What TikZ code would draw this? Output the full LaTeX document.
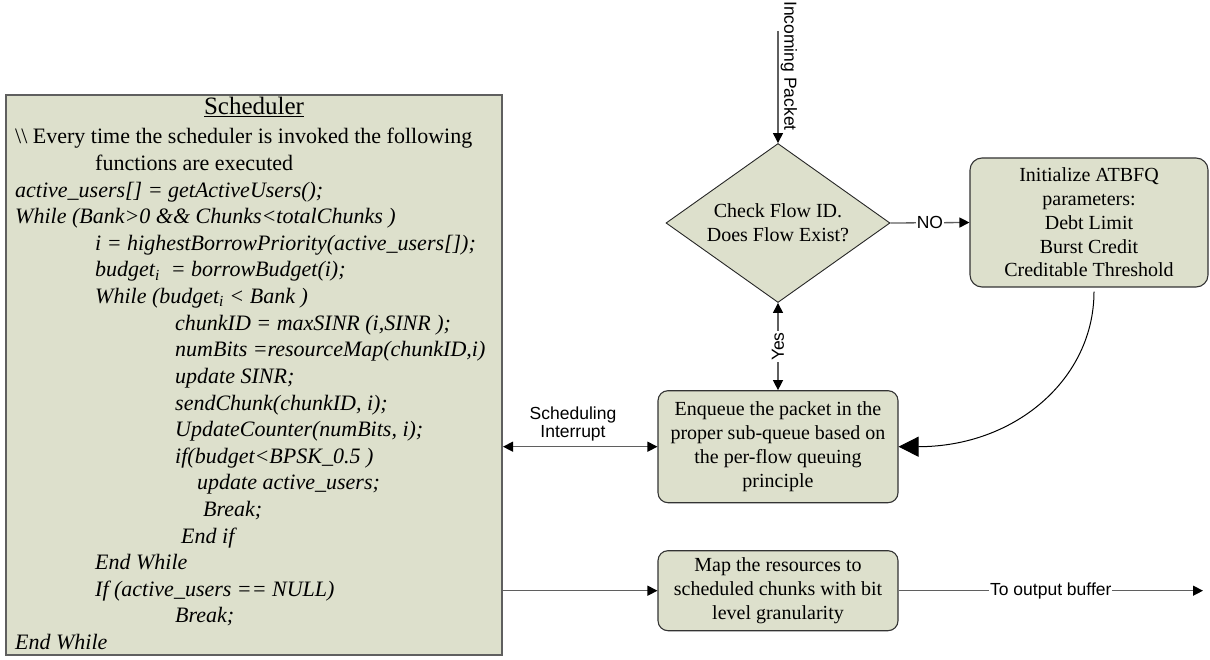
\documentclass[tikz,border=0pt]{standalone}
\usepackage{fontspec}
\setmainfont{Liberation Serif}
\newfontfamily\arialfont{Liberation Sans}
\usetikzlibrary{shapes.geometric,arrows.meta}
\definecolor{boxfill}{RGB}{221,224,204}
\definecolor{linegray}{RGB}{95,95,95}
\begin{document}
\begin{tikzpicture}[x=1pt,y=-1pt,
  >={Triangle[length=10pt,width=10pt,color=black]},
  conn/.style={draw=linegray, line width=1.3pt},
  stepbox/.style={draw=black!80, fill=boxfill, rounded corners=12pt, line width=1.1pt, align=center, inner sep=0pt, font=\fontsize{20}{23.7}\selectfont},
  decide/.style={diamond, draw=black!85, fill=boxfill, line width=0.9pt, minimum width=224pt, minimum height=159pt, inner sep=0pt, aspect=1.4, align=center, font=\fontsize{20}{24}\selectfont},
  lbl/.style={font=\arialfont\fontsize{17.5}{18.5}\selectfont, inner sep=1pt},
  code/.style={anchor=base west, inner sep=0pt, font=\fontsize{22}{26.6}\selectfont},
  codeit/.style={code, font=\fontsize{22}{26.6}\selectfont\itshape}]
\useasboundingbox (0,0) rectangle (1210,660);

\node[draw=linegray, fill=boxfill, line width=2pt, minimum width=496pt, minimum height=560pt, inner sep=0pt] (sched) at (254,375) {};
\node[anchor=base, inner sep=0pt, font=\fontsize{25}{30}\selectfont] (title) at (254,115) {\underline{Scheduler}};
\node[code] (code0) at (15,144) {\textbackslash\textbackslash\ Every time the scheduler is invoked the following};
\node[code] (code1) at (95,170.6) {functions are executed};
\foreach \x/\t [count=\n from 2] in {
  15/{active\_users[] = getActiveUsers();},
  15/{While (Bank>0 \&\& Chunks<totalChunks )},
  95/{i = highestBorrowPriority(active\_users[]);},
  95/{budget\textsubscript{i}\ \ = borrowBudget(i);},
  95/{While (budget\textsubscript{i} < Bank )},
  175/{chunkID = maxSINR (i,SINR );},
  175/{numBits =resourceMap(chunkID,i)},
  175/{update SINR;},
  175/{sendChunk(chunkID, i);},
  175/{UpdateCounter(numBits, i);},
  175/{if(budget<BPSK\_0.5 )},
  197/{update active\_users;},
  203/{Break;},
  181/{End if},
  95/{End While},
  95/{If (active\_users == NULL)},
  175/{Break;},
  15/{End While}}
  \node[codeit] (code\n) at (\x,{144+26.6*\n}) {\t};

\node[decide] (flow) at (778,223) {Check Flow ID.\\Does Flow Exist?};
\node[stepbox, minimum width=238pt, minimum height=129pt] (init) at (1089,222.5) {Initialize ATBFQ\\parameters:\\Debt Limit\\Burst Credit\\Creditable Threshold};
\node[stepbox, rounded corners=10pt, minimum width=240pt, minimum height=112pt] (enq) at (778,446.7) {Enqueue the packet in the\\proper sub-queue based on\\the per-flow queuing\\principle};
\node[stepbox, rounded corners=10pt, minimum width=240pt, minimum height=80pt] (map) at (778,590.7) {Map the resources to\\scheduled chunks with bit\\level granularity};

\coordinate (src) at (778,31);
\coordinate (out) at (1203,590.7);
\draw[conn, ->] (src) -- (flow.north);
\node[lbl, rotate=-90] (inc) at (789,66) {Incoming Packet};
\draw[conn, ->] (flow.east) -- node[lbl, fill=white] (no) {NO} (init.west);
\draw[conn, <->] (flow.south) -- node[lbl, fill=white, rotate=90] (yes) {Yes} (enq.north);
\draw[conn, <->] (sched.east |- enq.west) -- (enq.west);
\node[lbl, align=center] (intr) at (573,424) {Scheduling\\Interrupt};
\draw[conn, ->] (sched.east |- map.west) -- (map.west);
\draw[conn, ->] (map.east) -- node[lbl, fill=white] (outlbl) {To output buffer} (out);
\draw[line width=1pt, -{Triangle[length=20pt,width=20pt]}] ([shift={(5,4)}]init.south) .. controls +(0,87) and +(117,0) .. (enq.east);
\end{tikzpicture}
\end{document}
